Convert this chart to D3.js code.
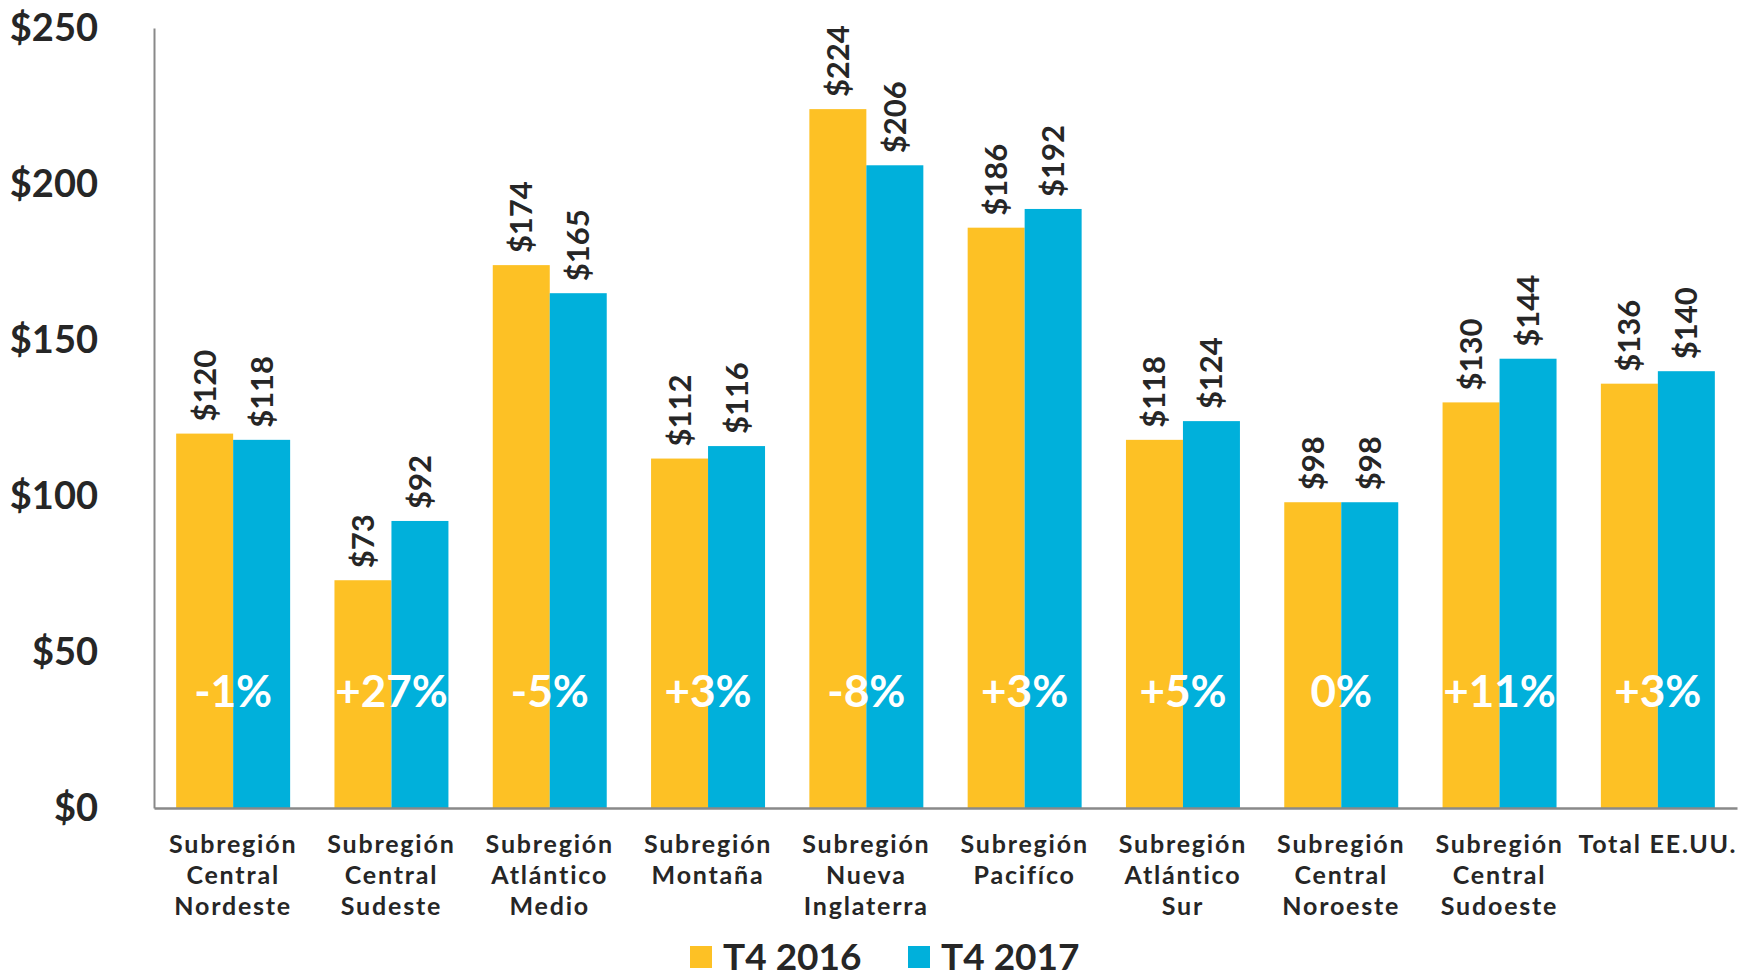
<!DOCTYPE html>
<html>
<head>
<meta charset="utf-8">
<script src="https://cdn.jsdelivr.net/npm/d3@7"></script>
<style>
  html, body { margin: 0; padding: 0; background: #fff; overflow: hidden; }
  svg { display: block; }
  text { font-family: Lato, "DejaVu Sans", sans-serif; }
</style>
</head>
<body>
<div id="chart"></div>
<script>
// Data
const categories = [
  ["Subregión", "Central", "Nordeste"],
  ["Subregión", "Central", "Sudeste"],
  ["Subregión", "Atlántico", "Medio"],
  ["Subregión", "Montaña"],
  ["Subregión", "Nueva", "Inglaterra"],
  ["Subregión", "Pacifíco"],
  ["Subregión", "Atlántico", "Sur"],
  ["Subregión", "Central", "Noroeste"],
  ["Subregión", "Central", "Sudoeste"],
  ["Total EE.UU."]
];
const series = ["T4 2016", "T4 2017"];
const values2016 = [120, 73, 174, 112, 224, 186, 118, 98, 130, 136];
const values2017 = [118, 92, 165, 116, 206, 192, 124, 98, 144, 140];
const changes = ["-1%", "+27%", "-5%", "+3%", "-8%", "+3%", "+5%", "0%", "+11%", "+3%"];
const yTicks = [0, 50, 100, 150, 200, 250];

const colors = ["#FDC125", "#00B0DB"];

// Constants
const width = 1740;
const height = 976;
const margin = {top: 28, right: 3, bottom: 168, left: 154};
const innerWidth = width - margin.left - margin.right;
const innerHeight = height - margin.top - margin.bottom;

const svg = d3.select("#chart")
  .append("svg")
    .attr("width", width)
    .attr("height", height)
    .attr("viewBox", `0 0 ${width} ${height}`);

const innerChart = svg.append("g")
  .attr("transform", `translate(${margin.left}, ${margin.top})`);

// Scales
const ids = categories.map((d, i) => i);
const xScale = d3.scaleBand()
  .domain(ids)
  .range([0, innerWidth])
  .paddingInner(0.28)
  .paddingOuter(0.14);

const subScale = d3.scaleBand()
  .domain([0, 1])
  .range([0, xScale.bandwidth()]);

const yScale = d3.scaleLinear()
  .domain([0, 250])
  .range([innerHeight, 0]);

const colorScale = d3.scaleOrdinal()
  .domain([0, 1])
  .range(colors);

// Rows for bars
const rows = [];
ids.forEach(i => {
  rows.push({cat: i, s: 0, value: values2016[i]});
  rows.push({cat: i, s: 1, value: values2017[i]});
});

// Bars
innerChart.selectAll("rect.bar")
  .data(rows)
  .join("rect")
    .attr("class", "bar")
    .attr("x", d => xScale(d.cat) + subScale(d.s))
    .attr("y", d => yScale(d.value))
    .attr("width", subScale.bandwidth())
    .attr("height", d => innerHeight - yScale(d.value))
    .attr("fill", d => colorScale(d.s));

// Value labels (rotated)
innerChart.selectAll("text.value")
  .data(rows)
  .join("text")
    .attr("class", "value")
    .attr("transform", d => {
      const cx = xScale(d.cat) + subScale(d.s) + subScale.bandwidth() / 2;
      return `translate(${cx + 11}, ${yScale(d.value) - 12}) rotate(-90)`;
    })
    .attr("text-anchor", "start")
    .attr("fill", "#262626")
    .attr("font-size", 31)
    .attr("font-weight", 700)
    .text(d => `$${d.value}`);

// Change labels
innerChart.selectAll("text.change")
  .data(changes)
  .join("text")
    .attr("class", "change")
    .attr("x", (d, i) => xScale(i) + xScale.bandwidth() / 2)
    .attr("y", yScale(50) + 55)
    .attr("text-anchor", "middle")
    .attr("fill", "#fff")
    .attr("font-size", 44)
    .attr("font-weight", 700)
    .text(d => d);

// Axis lines (no ticks, labels drawn separately)
const leftAxis = d3.axisLeft(yScale)
  .tickValues([])
  .tickSizeOuter(0);
innerChart.append("g")
  .call(leftAxis)
  .select(".domain")
    .attr("stroke", "#898989")
    .attr("stroke-width", 2);

const bottomAxis = d3.axisBottom(xScale)
  .tickValues([])
  .tickSizeOuter(0);
innerChart.append("g")
  .attr("transform", `translate(0, ${innerHeight})`)
  .call(bottomAxis)
  .select(".domain")
    .attr("stroke", "#898989")
    .attr("stroke-width", 2.5);

// Y tick labels
innerChart.append("g")
  .selectAll("text")
  .data(yTicks)
  .join("text")
    .attr("x", -56)
    .attr("y", d => yScale(d))
    .attr("dy", "0.35em")
    .attr("text-anchor", "end")
    .attr("fill", "#262626")
    .attr("font-size", 38)
    .attr("font-weight", 700)
    .text(d => `$${d}`);

// Category labels
const catLabels = innerChart.append("g")
  .attr("transform", `translate(0, ${innerHeight})`)
  .selectAll("text")
  .data(ids)
  .join("text")
    .attr("text-anchor", "middle")
    .attr("fill", "#262626")
    .attr("font-size", 25)
    .attr("font-weight", 700)
    .attr("letter-spacing", 1.8);
catLabels.each(function(i) {
  const cx = xScale(i) + xScale.bandwidth() / 2;
  d3.select(this).selectAll("tspan")
    .data(categories[i])
    .join("tspan")
      .attr("x", cx)
      .attr("y", (d, k) => 45 + k * 31)
      .text(d => d);
});

// Legend
const legend = svg.append("g")
  .attr("transform", `translate(690, 958)`);
const legendItems = legend.selectAll("g")
  .data(series)
  .join("g")
    .attr("transform", (d, i) => `translate(${i * 218}, 0)`);
legendItems.append("rect")
  .attr("x", 0)
  .attr("y", -12)
  .attr("width", 22)
  .attr("height", 22)
  .attr("fill", (d, i) => colorScale(i));
legendItems.append("text")
  .attr("x", 33)
  .attr("y", 12)
  .attr("fill", "#262626")
  .attr("font-size", 37)
  .attr("font-weight", 700)
  .text(d => d);
</script>
</body>
</html>
